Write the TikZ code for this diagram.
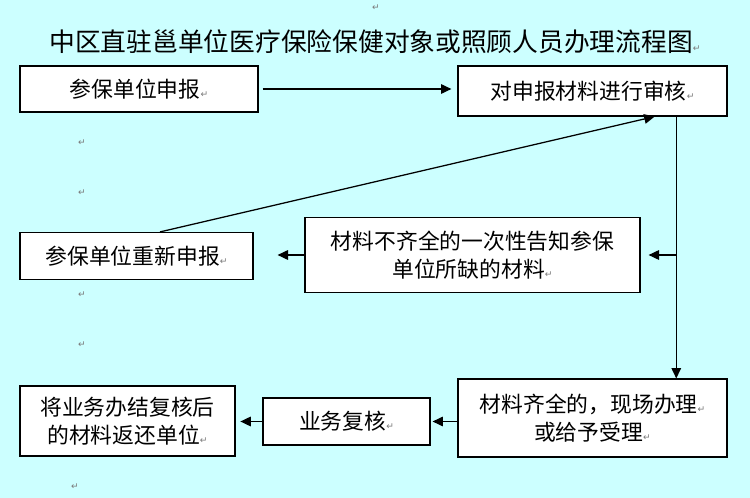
\documentclass[tikz,border=0pt]{standalone}
\usepackage{fontspec}
\setmainfont{Noto Sans CJK SC}
\newfontfamily\markfont{DejaVu Sans}
\usetikzlibrary{arrows.meta,calc}
\definecolor{bgCyan}{HTML}{CCFFFF}
\definecolor{markGray}{HTML}{7A7A7A}
\newcommand{\retmark}{{\markfont\fontsize{6.5}{7}\selectfont\textcolor{markGray}{↵}}}
\tikzset{
  box/.style    ={draw, fill=white, align=center, inner sep=2pt, line width=0.8pt,
                  font=\fontsize{15.5}{19.5}\selectfont},
  arr/.style    ={-{Triangle[length=2.6mm,width=2.4mm]}, line width=0.9pt},
  retnote/.style={inner sep=0pt},
}

\begin{document}
\begin{tikzpicture}[x=0.025cm, y=-0.025cm]
  \fill[bgCyan] (0,0) rectangle (750,498);
  \useasboundingbox (0,0) rectangle (750,498);

  \node[font=\fontsize{18.3}{22}\selectfont] (title) at (375,42)
        {中区直驻邕单位医疗保险保健对象或照顾人员办理流程图\retmark};

  \node[box, minimum width=5.95cm,  minimum height=1.15cm]  (A) at (139,89)    {参保单位申报\retmark};
  \node[box, minimum width=6.725cm, minimum height=1.25cm]  (B) at (592.5,91)  {对申报材料进行审核\retmark};
  \node[box, minimum width=8.375cm, minimum height=1.875cm] (C) at (472.5,255) {材料不齐全的一次性告知参保\\单位所缺的材料\retmark};
  \node[box, minimum width=5.825cm, minimum height=1.175cm] (D) at (136.5,256) {参保单位重新申报\retmark};
  \node[box, minimum width=6.725cm, minimum height=1.95cm]  (E) at (592.5,418) {材料齐全的，现场办理\retmark\\或给予受理\retmark};
  \node[box, minimum width=4.175cm, minimum height=1.175cm] (F) at (346.5,421.5) {业务复核\retmark};
  \node[box, minimum width=5.375cm, minimum height=1.75cm]  (G) at (127.5,421) {将业务办结复核后\\的材料返还单位\retmark};

  % stray paragraph marks
  \foreach \n/\p in {r1/{(376,8)}, r2/{(82,143)}, r3/{(82,193)}, r4/{(82,295)},
                     r5/{(82,345)}, r6/{(75,487)}}
    \node[retnote] (\n) at \p {\retmark};

  % main flow
  \draw[arr, shorten <=0.1cm, shorten >=0.15cm] (A.east) -- (A.east -| B.west);
  \coordinate (v) at ($(B.south west)!0.81!(B.south east)$);
  \draw[arr] (v) -- (v |- E.north);
  \draw[arr, shorten >=0.2cm] (v |- C.east) -- (C.east);
  \draw[arr, shorten >=0.6cm] (C.west) -- (C.west -| D.east);
  \draw[arr] ($(D.north west)!0.6!(D.north east)$) -- ($(B.south west)!0.73!(B.south east)$);
  \draw[arr, shorten >=0.05cm] (F.east -| E.west) -- (F.east);
  \draw[arr, shorten >=0.12cm] (F.west) -- (F.west -| G.east);
\end{tikzpicture}
\end{document}
